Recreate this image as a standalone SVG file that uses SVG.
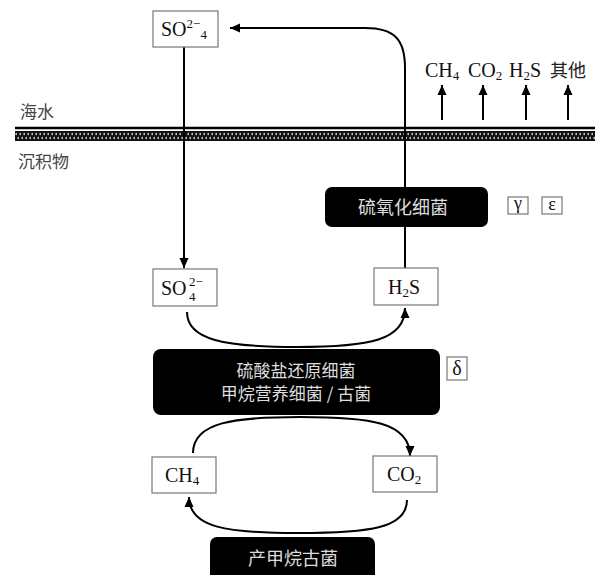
<svg xmlns="http://www.w3.org/2000/svg" width="602" height="575" viewBox="0 0 602 575">
<style>
.bg{fill:#fff}
.box{fill:#fff;stroke:#777;stroke-width:1.2}
.dark{fill:#000}
.chem{font-family:"Liberation Serif","Times New Roman",serif;font-size:20px;fill:#111}
.sub{font-size:13px}
.cn{font-family:"Noto Sans CJK SC","Noto Sans",sans-serif;font-size:17px;fill:#444}
.wt{font-family:"Noto Sans CJK SC","Noto Sans",sans-serif;font-size:18px;fill:#ddd;text-anchor:middle}
.greek{font-family:"Liberation Serif","DejaVu Serif",serif;font-size:18px;fill:#111;text-anchor:middle}
.ln{fill:none;stroke:#000;stroke-width:2}
</style>
<defs>
<marker id="ah" markerUnits="userSpaceOnUse" markerWidth="11" markerHeight="10" refX="10" refY="5" orient="auto">
<path d="M0,0.5 L10,5 L0,9.5 z" fill="#000"/>
</marker>
<pattern id="hatch" patternUnits="userSpaceOnUse" x="15" y="131" width="4" height="10">
<rect width="4" height="10" fill="#111"/>
<ellipse cx="1.2" cy="3" rx="0.8" ry="1.3" fill="#ccc"/>
<ellipse cx="3.2" cy="7" rx="0.8" ry="1.3" fill="#ccc"/>
</pattern>
</defs>
<rect class="bg" width="602" height="575"/>

<g id="seafloor">
<line x1="15" y1="128" x2="595" y2="128" stroke="#000" stroke-width="2.5"/>
<rect x="15" y="131" width="580" height="10" fill="url(#hatch)"/>
<text class="cn" x="20" y="118">海水</text>
<text class="cn" x="18" y="168">沉积物</text>
</g>

<g id="connectors">
<path class="ln" d="M405,187 V68 C405,40 395,28 365,28 H230" marker-end="url(#ah)"/>
<path class="ln" d="M184,47 V268" marker-end="url(#ah)"/>
<path class="ln" d="M405,268 V227"/>
<path class="ln" d="M187,312 C187,340 225,347 297,347 C370,347 405,340 405,308" marker-end="url(#ah)"/>
<path class="ln" d="M193,453 C193,422 235,417 300,417 C370,417 410,422 410,456" marker-end="url(#ah)"/>
<path class="ln" d="M407,500 C407,528 370,533 298,533 C228,533 189,528 189,497" marker-end="url(#ah)"/>
<path class="ln" d="M442,120 V85" marker-end="url(#ah)"/>
<path class="ln" d="M483,120 V85" marker-end="url(#ah)"/>
<path class="ln" d="M526,120 V85" marker-end="url(#ah)"/>
<path class="ln" d="M568,120 V85" marker-end="url(#ah)"/>
</g>

<g id="gases">
<text class="chem" x="425" y="77">CH<tspan class="sub" dy="3">4</tspan></text>
<text class="chem" x="468" y="77">CO<tspan class="sub" dy="3">2</tspan></text>
<text class="chem" x="509" y="77">H<tspan class="sub" dy="3">2</tspan><tspan dy="-3">S</tspan></text>
<text class="cn" x="550" y="77" style="fill:#222;font-size:18px">其他</text>
</g>

<g id="so4-top">
<rect class="box" x="153" y="11" width="65" height="36"/>
<text class="chem" x="161" y="36">SO<tspan class="sub" dy="-8">2−</tspan><tspan class="sub" dy="11">4</tspan></text>
</g>

<g id="so4-bottom">
<rect class="box" x="153" y="269" width="64" height="37"/>
<text class="chem" x="161" y="295">SO</text>
<text class="chem sub" x="189" y="286">2−</text>
<text class="chem sub" x="189" y="301">4</text>
</g>

<g id="h2s">
<rect class="box" x="374" y="268" width="64" height="37"/>
<text class="chem" x="388" y="294">H<tspan class="sub" dy="3">2</tspan><tspan dy="-3">S</tspan></text>
</g>

<g id="ch4">
<rect class="box" x="152" y="457" width="64" height="36"/>
<text class="chem" x="165" y="482">CH<tspan class="sub" dy="3">4</tspan></text>
</g>

<g id="co2">
<rect class="box" x="373" y="456" width="64" height="36"/>
<text class="chem" x="387" y="481">CO<tspan class="sub" dy="3">2</tspan></text>
</g>

<g id="sulfur-oxidizing">
<rect class="dark" x="325" y="187" width="163" height="40" rx="7"/>
<text class="wt" x="403" y="214">硫氧化细菌</text>
</g>

<g id="gamma">
<rect class="box" x="508" y="197" width="20" height="17"/>
<text class="greek" x="518" y="209">γ</text>
</g>
<g id="epsilon">
<rect class="box" x="542" y="197" width="20" height="17"/>
<text class="greek" x="552" y="210">ε</text>
</g>

<g id="sulfate-reducing">
<rect class="dark" x="153" y="349" width="287" height="66" rx="8"/>
<text class="wt" x="296" y="377" style="font-size:17px">硫酸盐还原细菌</text>
<text class="wt" x="296" y="400" style="font-size:17px">甲烷营养细菌 / 古菌</text>
</g>

<g id="delta">
<rect class="box" x="447" y="357" width="20" height="23"/>
<text class="greek" x="457" y="375" style="font-size:20px">δ</text>
</g>

<g id="methanogen">
<rect class="dark" x="210" y="537" width="165" height="45" rx="7"/>
<text class="wt" x="293" y="565">产甲烷古菌</text>
</g>
</svg>
